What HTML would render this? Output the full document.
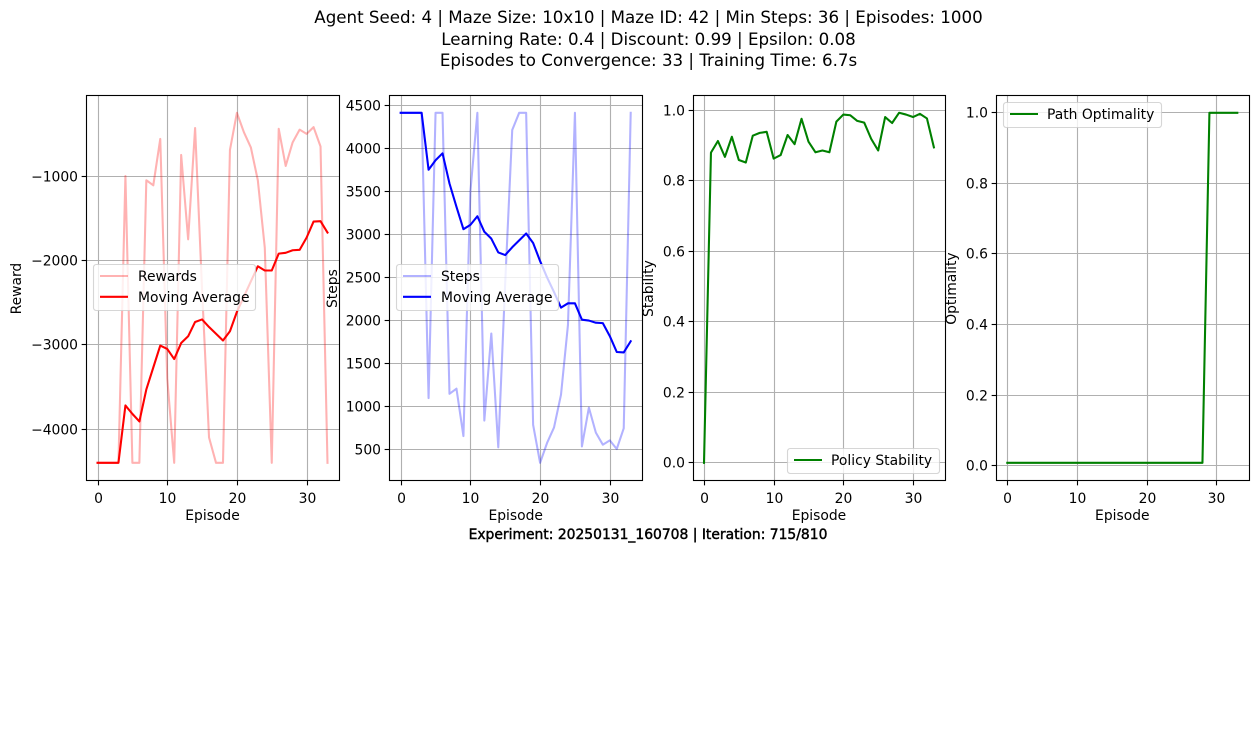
<!DOCTYPE html>
<html lang="en">
<head>
<meta charset="utf-8">
<title>Agent training chart</title>
<style>
html,body{margin:0;padding:0;background:#fff;width:1258px;height:745px;overflow:hidden}
svg{display:block;font-family:"DejaVu Sans","Liberation Sans",sans-serif;fill:#000}
</style>
</head>
<body>
<svg id="chart" width="1258" height="745" viewBox="0 0 1258 745" xmlns="http://www.w3.org/2000/svg">
<rect width="1258" height="745" fill="#fff"/>
<g font-size="16.67px" text-anchor="middle">
<text x="648.5" y="23">Agent Seed: 4 | Maze Size: 10x10 | Maze ID: 42 | Min Steps: 36 | Episodes: 1000</text>
<text x="648.5" y="45">Learning Rate: 0.4 | Discount: 0.99 | Epsilon: 0.08</text>
<text x="648.5" y="66">Episodes to Convergence: 33 | Training Time: 6.7s</text>
</g>
<g font-size="13.89px" text-anchor="middle">
<text x="648" y="539" stroke="#000" stroke-width="0.45">Experiment: 20250131_160708 | Iteration: 715/810</text>
</g>
</svg>
<script>
const episodes = [0,1,2,3,4,5,6,7,8,9,10,11,12,13,14,15,16,17,18,19,20,21,22,23,24,25,26,27,28,29,30,31,32,33];
const rewards = [-4400,-4400,-4400,-4400,-1000,-4400,-4400,-1050,-1110,-560,-3400,-4400,-750,-1750,-430,-2350,-4100,-4400,-4400,-690,-250,-480,-660,-1050,-1850,-4400,-440,-880,-600,-450,-500,-420,-650,-4400];
const rewardsAvg = [-4400,-4400,-4400,-4400,-3720,-3820,-3910,-3530,-3270,-3010,-3050,-3170,-2980,-2900,-2730,-2700,-2790,-2870,-2950,-2840,-2610,-2430,-2250,-2070,-2120,-2120,-1920,-1910,-1880,-1875,-1730,-1540,-1535,-1670];
const steps = [4410,4410,4410,4410,1100,4410,4410,1150,1210,660,3500,4410,840,1850,530,2450,4210,4410,4410,790,350,580,760,1140,1950,4410,540,990,700,560,610,510,750,4410];
const stepsAvg = [4410,4410,4410,4410,3750,3860,3940,3590,3320,3060,3110,3210,3030,2950,2790,2760,2850,2930,3010,2900,2690,2500,2330,2150,2200,2200,2010,2000,1975,1970,1820,1635,1630,1760];
const stability = [0,0.88,0.913,0.868,0.925,0.859,0.852,0.928,0.936,0.939,0.863,0.873,0.93,0.904,0.976,0.911,0.881,0.886,0.881,0.968,0.988,0.986,0.97,0.965,0.919,0.886,0.981,0.964,0.993,0.988,0.981,0.99,0.977,0.895];
const optimality = [0.008,0.008,0.008,0.008,0.008,0.008,0.008,0.008,0.008,0.008,0.008,0.008,0.008,0.008,0.008,0.008,0.008,0.008,0.008,0.008,0.008,0.008,0.008,0.008,0.008,0.008,0.008,0.008,0.008,1,1,1,1,1];
const xTickValues = [0,10,20,30];
const rewardTicks = [-4000,-3000,-2000,-1000];
const stepTicks = [500,1000,1500,2000,2500,3000,3500,4000,4500];
const stabilityTicks = [0,0.2,0.4,0.6,0.8,1];
const optimalityTicks = [0,0.2,0.4,0.6,0.8,1];

const NS = 'http://www.w3.org/2000/svg';
const root = document.getElementById('chart');
const AX_TOP = 95.3, AX_BOTTOM = 480.3;

function node(tag, parent, attrs, text) {
  const el = document.createElementNS(NS, tag);
  for (const k in attrs) el.setAttribute(k, attrs[k]);
  if (text !== undefined) el.textContent = text;
  parent.appendChild(el);
  return el;
}
function range(values) {
  const lo = Math.min.apply(null, values), hi = Math.max.apply(null, values);
  const m = (hi - lo) * 0.05;
  return [lo - m, hi + m];
}
function fmt(v, decimals) {
  const s = Math.abs(v).toFixed(decimals);
  return (v < 0 ? '\u2212' : '') + s;
}
function snapX(p) { return Math.floor(p + 0.5) + 0.5; }
function snapY(p) { return Math.round(p - 0.5) + 0.5; }

function drawPanel(cfg) {
  const g = node('g', root, {});
  
  
  const L = cfg.left, R = cfg.right;
  const FL = snapX(L), FR = snapX(R), FT = 95.5, FB = 480.5;
  const xDom = range(episodes);
  const allY = cfg.series.reduce(function (a, s) { return a.concat(s.values); }, []);
  const yDom = range(allY);
  const xScale = function (v) { return L + (v - xDom[0]) / (xDom[1] - xDom[0]) * (R - L); };
  const yScale = function (v) { return AX_BOTTOM - (v - yDom[0]) / (yDom[1] - yDom[0]) * (AX_BOTTOM - AX_TOP); };

  xTickValues.forEach(function (t) {
    const px = snapX(xScale(t));
    const gl = node('line', g, {x1: px, x2: px, y1: FT, y2: FB, stroke: '#b0b0b0', 'stroke-width': 1.11});
    
    
    const tk = node('line', g, {x1: px, x2: px, y1: FB, y2: FB + 4.86, stroke: '#000', 'stroke-width': 1.11});
    
    
    const lb = node('text', g, {x: px, y: 503, 'font-size': '13.89px', 'text-anchor': 'middle'}, String(t));
    
    
  });
  cfg.ticks.forEach(function (t) {
    const py = snapY(yScale(t));
    const gl = node('line', g, {x1: FL, x2: FR, y1: py, y2: py, stroke: '#b0b0b0', 'stroke-width': 1.11});
    
    
    const tk = node('line', g, {x1: FL - 4.86, x2: FL, y1: py, y2: py, stroke: '#000', 'stroke-width': 1.11});
    
    
    const lb = node('text', g, {x: FL - 8.5, y: py + 5, 'font-size': '13.89px', 'text-anchor': 'end'}, fmt(t, cfg.decimals));
    
    
  });
  cfg.series.forEach(function (s) {
    const pts = s.values.map(function (v, i) { return xScale(episodes[i]).toFixed(2) + ',' + yScale(v).toFixed(2); }).join(' ');
    const pl = node('polyline', g, {points: pts, fill: 'none', stroke: s.color, 'stroke-opacity': s.alpha, 'stroke-width': 2.08, 'stroke-linejoin': 'round', 'stroke-linecap': 'square'});
    
    
  });
  const frame = node('rect', g, {x: FL, y: FT, width: FR - FL, height: FB - FT, fill: 'none', stroke: '#000', 'stroke-width': 1.11});
  
  

  const xt = node('text', g, {x: (L + R) / 2, y: 520, 'font-size': '13.89px', 'text-anchor': 'middle'}, 'Episode');
  
  
  const yt = node('text', g, {x: 0, y: 0, 'font-size': '13.89px', 'text-anchor': 'middle', transform: 'translate(' + cfg.ylabelX + ',288.6) rotate(-90)'}, cfg.ylabel);
  
  

  const lg = node('g', g, {});
  
  
  const box = cfg.legend;
  const bg = node('rect', lg, {x: box.x + 0.5, y: box.y + 0.5, width: box.w, height: box.h, rx: 2.8, ry: 2.8, fill: '#fff', 'fill-opacity': 0.8, stroke: '#ccc', 'stroke-opacity': 0.8, 'stroke-width': 1.11});
  
  
  cfg.series.forEach(function (s, i) {
    const cy = box.y + 12 + i * 20.8;
    const ln = node('line', lg, {x1: box.x + 7, x2: box.x + 35, y1: cy, y2: cy, stroke: s.color, 'stroke-opacity': s.alpha, 'stroke-width': 2.08});
    
    
    const tx = node('text', lg, {x: box.x + box.textDx, y: cy + 5, 'font-size': '13.89px', fill: '#000'}, s.label);
    
    
  });
}

drawPanel({name: 'reward', left: 86.05, right: 339, ticks: rewardTicks, decimals: 0, ylabel: 'Reward', ylabelX: 21,
  legend: {x: 93, y: 264, w: 162, h: 46, textDx: 45},
  series: [
    {key: 'rewards', label: 'Rewards', values: rewards, color: '#ff0000', alpha: 0.3},
    {key: 'rewards-moving-average', label: 'Moving Average', values: rewardsAvg, color: '#ff0000', alpha: 1}
  ]});
drawPanel({name: 'steps', left: 389.2, right: 642.2, ticks: stepTicks, decimals: 0, ylabel: 'Steps', ylabelX: 337,
  legend: {x: 396, y: 264, w: 162, h: 46, textDx: 45},
  series: [
    {key: 'steps', label: 'Steps', values: steps, color: '#0000ff', alpha: 0.3},
    {key: 'steps-moving-average', label: 'Moving Average', values: stepsAvg, color: '#0000ff', alpha: 1}
  ]});
drawPanel({name: 'stability', left: 692.5, right: 945.4, ticks: stabilityTicks, decimals: 1, ylabel: 'Stability', ylabelX: 653,
  legend: {x: 787, y: 448, w: 152, h: 25, textDx: 44},
  series: [
    {key: 'policy-stability', label: 'Policy Stability', values: stability, color: '#008000', alpha: 1}
  ]});
drawPanel({name: 'optimality', left: 995.8, right: 1248.8, ticks: optimalityTicks, decimals: 1, ylabel: 'Optimality', ylabelX: 956,
  legend: {x: 1003, y: 102, w: 158, h: 25, textDx: 44},
  series: [
    {key: 'path-optimality', label: 'Path Optimality', values: optimality, color: '#008000', alpha: 1}
  ]});
</script>
</body>
</html>
